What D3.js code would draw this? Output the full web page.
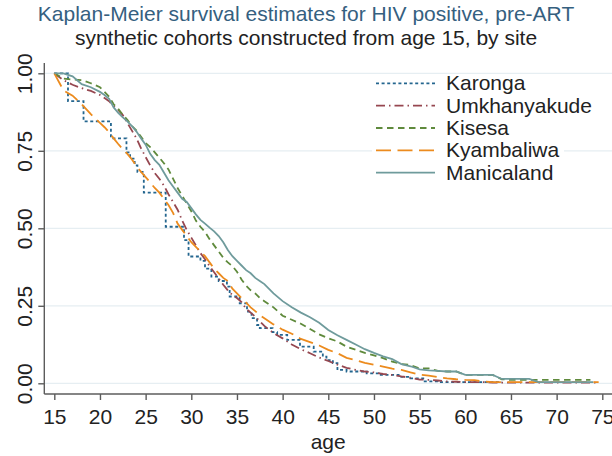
<!DOCTYPE html>
<html>
<head>
<meta charset="utf-8">
<script src="https://cdn.jsdelivr.net/npm/d3@7"></script>
<style>
  body { margin: 0; background: #fff; }
  svg { display: block; font-family: "Liberation Sans", Arial, Helvetica, sans-serif; }
  .c-axis path, .c-axis line { stroke: #5c5c5c; stroke-width: 1.4; }
  .c-axis text { fill: #222; font-size: 21px; font-family: "Liberation Sans", Arial, sans-serif; }
  .c-grid line { stroke: #e6eef2; stroke-width: 1.3; }
  .c-curves path { fill: none; stroke-width: 1.8; }
  .c-legend text { fill: #222; font-size: 21px; }
</style>
</head>
<body>
<div id="kmChart"></div>
<script>
// site names, in legend order
const sites = ['Karonga', 'Umkhanyakude', 'Kisesa', 'Kyambaliwa', 'Manicaland'];
const siteColors = ['#24668f', '#964750', '#5f8a3c', '#ec8b1e', '#6f9b9c'];
const siteDashes = ['3,2.6', '9,4,1.5,4', '6.5,4.5', '15,6.5', null];

const ageTicks = [15, 20, 25, 30, 35, 40, 45, 50, 55, 60, 65, 70, 75];
const survivalTicks = [0, 0.25, 0.5, 0.75, 1];

// shared age grid for the four large cohorts (survival read at these ages)
const ageGrid = [
  15, 16, 17, 18, 19, 20,
  20.5, 21, 21.5, 22, 22.5, 23, 23.5, 24, 24.5, 25, 25.5, 26, 26.5, 27, 27.5, 28,
  28.5, 29, 29.5, 30, 30.5, 31, 31.5, 32, 32.5, 33, 33.5, 34, 34.5, 35, 35.5, 36,
  36.5, 37, 37.5, 38,
  39, 40, 41, 42, 43, 44, 45, 46, 47, 48, 49, 50, 51, 52, 53, 54, 55, 56, 57, 58,
  59, 60, 61, 62, 63, 64, 65, 66, 67, 68, 69, 70, 71, 72, 73, 74
];

const umkhanyakudeSurvival = [
  1, 0.978, 0.963, 0.952, 0.943, 0.93,
  0.92, 0.91, 0.895, 0.882, 0.865, 0.84, 0.815, 0.79, 0.758, 0.73, 0.703, 0.678,
  0.66, 0.638, 0.61, 0.585, 0.56, 0.525, 0.495, 0.47, 0.445, 0.42, 0.4, 0.378,
  0.358, 0.338, 0.318, 0.3, 0.285, 0.275, 0.262, 0.24, 0.228, 0.215, 0.2, 0.185,
  0.162, 0.145, 0.125, 0.11, 0.097, 0.083, 0.072, 0.06, 0.05, 0.043, 0.038, 0.035,
  0.03, 0.027, 0.022, 0.018, 0.012, 0.011, 0.009, 0.006, 0.005, 0.004, 0.004,
  0.004, 0.002, 0.002, 0.002, 0.002, 0.002, 0.002, 0.002, 0.002, 0.002, 0.002,
  0.002, 0.002
];

const kisesaSurvival = [
  1, 0.983, 0.98, 0.978, 0.968, 0.955,
  0.94, 0.925, 0.9, 0.885, 0.866, 0.85, 0.83, 0.815, 0.795, 0.775, 0.762, 0.745,
  0.728, 0.71, 0.69, 0.66, 0.63, 0.605, 0.58, 0.555, 0.525, 0.505, 0.488, 0.465,
  0.445, 0.425, 0.405, 0.39, 0.378, 0.36, 0.335, 0.315, 0.3, 0.29, 0.275, 0.265,
  0.245, 0.218, 0.205, 0.192, 0.175, 0.158, 0.145, 0.135, 0.118, 0.108, 0.098, 0.09,
  0.081, 0.07, 0.062, 0.059, 0.048, 0.048, 0.04, 0.038, 0.038, 0.027, 0.027,
  0.027, 0.027, 0.013, 0.011, 0.011, 0.011, 0.011, 0.011, 0.011, 0.011, 0.011,
  0.011
];

const kyambaliwaSurvival = [
  1, 0.945, 0.928, 0.9, 0.868, 0.84,
  0.826, 0.81, 0.79, 0.772, 0.755, 0.74, 0.722, 0.7, 0.682, 0.665, 0.648, 0.63,
  0.615, 0.595, 0.575, 0.55, 0.515, 0.495, 0.475, 0.455, 0.44, 0.425, 0.41, 0.39,
  0.37, 0.355, 0.34, 0.33, 0.305, 0.29, 0.275, 0.26, 0.245, 0.233, 0.22, 0.21,
  0.19, 0.173, 0.16, 0.143, 0.133, 0.122, 0.108, 0.097, 0.082, 0.075, 0.066, 0.06,
  0.054, 0.047, 0.043, 0.035, 0.028, 0.025, 0.02, 0.016, 0.013, 0.011, 0.01,
  0.006, 0.004, 0.004, 0.004, 0.004, 0.004, 0.004, 0.004, 0.004, 0.004, 0.004,
  0.004, 0.004
];

const manicalandSurvival = [
  1, 1, 0.99, 0.965, 0.955, 0.94,
  0.93, 0.918, 0.89, 0.872, 0.858, 0.845, 0.83, 0.812, 0.79, 0.77, 0.74, 0.72,
  0.705, 0.68, 0.655, 0.635, 0.615, 0.595, 0.585, 0.565, 0.545, 0.527, 0.515, 0.502,
  0.49, 0.475, 0.455, 0.43, 0.41, 0.395, 0.38, 0.365, 0.355, 0.34, 0.33, 0.32,
  0.29, 0.265, 0.245, 0.228, 0.213, 0.195, 0.172, 0.155, 0.14, 0.125, 0.11, 0.098,
  0.087, 0.078, 0.062, 0.055, 0.045, 0.042, 0.04, 0.038, 0.038, 0.027, 0.027,
  0.027, 0.027, 0.014, 0.014, 0.014, 0.014, 0.004, 0.004, 0.004, 0.004, 0.004,
  0.004, 0.004
];

// Karonga is a small cohort, so its own step ages
const karongaAges = [
  15, 16.5, 18.2, 21.2, 22.9, 23.3, 23.8, 24.1, 24.8, 27.2, 29.2, 29.7, 31.0, 31.5,
  32.2, 33.0, 33.9, 34.2, 35.3, 36.1, 36.6, 37.2, 37.5, 38.9, 39.4, 40.5, 41.9,
  43.4, 44.4, 44.8, 45.5, 46.0, 47.0, 49.2, 50.5, 52.7, 54.0, 55.4, 57.0
];
const karongaSurvival = [
  1, 0.91, 0.845, 0.79, 0.745, 0.725, 0.703, 0.682, 0.615, 0.505, 0.462, 0.409, 0.395,
  0.37, 0.344, 0.33, 0.312, 0.28, 0.258, 0.231, 0.21, 0.188, 0.178, 0.165, 0.156,
  0.14, 0.118, 0.102, 0.086, 0.075, 0.065, 0.043, 0.038, 0.032, 0.027, 0.021, 0.016,
  0.006, 0.004
];

// age at which each curve stops
const siteEndAges = [64, 74.4, 73.7, 74.6, 74];

class KaplanMeierChart {
  constructor () {
    this.chartContainer = d3.select('#kmChart');
    this.chart = null;
    this.chartWidth = 612;
    this.chartHeight = 456;
    this.plotLeft = 44.3;
    this.plotRight = 612;
    this.plotTop = 63;
    this.plotBottom = 394;
    this.ageScale = null;
    this.survivalScale = null;
  }

  buildSeries () {
    let survivals = [karongaSurvival, umkhanyakudeSurvival, kisesaSurvival, kyambaliwaSurvival, manicalandSurvival];
    this.series = sites.map((site, i) => {
      let ages = i === 0 ? karongaAges : ageGrid;
      let points = survivals[i].map((s, j) => ({age: ages[j], survival: s}))
        .filter((d) => d.age < siteEndAges[i]);
      points.push({age: siteEndAges[i], survival: points[points.length - 1].survival});
      // Karonga has few events: real steps; the big cohorts are read point by point
      let curve = i === 0 ? d3.curveStepAfter : d3.curveLinear;
      return {site: site, color: siteColors[i], dash: siteDashes[i], points: points, curve: curve};
    });
  }

  createSvg () {
    this.chart = this.chartContainer
      .append('svg')
      .attr('width', this.chartWidth)
      .attr('height', this.chartHeight);
  }

  initScales () {
    this.ageScale = d3.scaleLinear().domain([15, 75]).range([54.3, 602.3]);
    this.survivalScale = d3.scaleLinear().domain([0, 1]).range([383.3, 73.3]);
  }

  drawGrid () {
    this.chart
      .append('g')
      .attr('class', 'c-grid')
      .selectAll('line')
      .data(survivalTicks)
      .enter()
      .append('line')
      .attr('x1', this.plotLeft)
      .attr('x2', this.plotRight)
      .attr('y1', (d) => this.survivalScale(d))
      .attr('y2', (d) => this.survivalScale(d));
  }

  drawAxes () {
    let survivalAxis = d3.axisLeft(this.survivalScale)
      .tickValues(survivalTicks)
      .tickFormat(d3.format('.2f'))
      .tickSize(6)
      .tickSizeOuter(0);
    let ageAxis = d3.axisBottom(this.ageScale)
      .tickValues(ageTicks)
      .tickSize(6)
      .tickSizeOuter(0);

    let yAxis = this.chart
      .append('g')
      .attr('class', 'c-axis')
      .attr('transform', 'translate(' + this.plotLeft + ', 0)')
      .call(survivalAxis);
    yAxis.select('.domain').remove();
    yAxis.append('line')
      .attr('y1', this.plotTop)
      .attr('y2', this.plotBottom);
    yAxis.selectAll('.tick text')
      .attr('x', 0)
      .attr('dy', 0)
      .attr('text-anchor', 'middle')
      .attr('transform', 'translate(-12.6, 0) rotate(-90)');

    let xAxis = this.chart
      .append('g')
      .attr('class', 'c-axis')
      .attr('transform', 'translate(0, ' + this.plotBottom + ')')
      .call(ageAxis);
    xAxis.select('.domain').remove();
    xAxis.append('line')
      .attr('x1', this.plotLeft)
      .attr('x2', this.plotRight);
    xAxis.selectAll('.tick text')
      .attr('y', 30)
      .attr('dy', 0);

    this.chart
      .append('text')
      .attr('x', (this.plotLeft + this.plotRight) / 2)
      .attr('y', 449)
      .attr('text-anchor', 'middle')
      .style('font-size', '21px')
      .style('fill', '#222')
      .text('age');
  }

  drawCurves () {
    this.chart
      .append('g')
      .attr('class', 'c-curves')
      .selectAll('path')
      .data(this.series)
      .enter()
      .append('path')
      .attr('stroke', (d) => d.color)
      .attr('stroke-dasharray', (d) => d.dash)
      .attr('d', (d) => {
        let line = d3.line()
          .curve(d.curve)
          .x((p) => this.ageScale(p.age))
          .y((p) => this.survivalScale(p.survival));
        return line(d.points);
      });
  }

  drawLegend () {
    let legend = this.chart
      .append('g')
      .attr('class', 'c-legend');

    legend.append('rect')
      .attr('x', 372)
      .attr('y', 76)
      .attr('width', 192)
      .attr('height', 108)
      .attr('fill', '#fff');

    let rows = legend.selectAll('g.row')
      .data(this.series)
      .enter()
      .append('g')
      .attr('class', 'row')
      .attr('transform', (d, i) => 'translate(0, ' + (83.3 + i * 22.35) + ')');

    rows.append('line')
      .attr('x1', 376)
      .attr('x2', 435)
      .attr('stroke', (d) => d.color)
      .attr('stroke-width', 1.8)
      .attr('stroke-dasharray', (d) => d.dash);

    rows.append('text')
      .attr('x', 446)
      .attr('y', 7)
      .text((d) => d.site);
  }

  drawTitles () {
    this.chart
      .append('text')
      .attr('x', this.chartWidth / 2)
      .attr('y', 21)
      .attr('text-anchor', 'middle')
      .style('font-size', '21px')
      .style('fill', '#35607f')
      .text('Kaplan-Meier survival estimates for HIV positive, pre-ART');

    this.chart
      .append('text')
      .attr('x', this.chartWidth / 2)
      .attr('y', 45)
      .attr('text-anchor', 'middle')
      .style('font-size', '21px')
      .style('fill', '#222')
      .text('synthetic cohorts constructed from age 15, by site');
  }

  render () {
    this.buildSeries();
    this.createSvg();
    this.initScales();
    this.drawGrid();
    this.drawCurves();
    this.drawAxes();
    this.drawLegend();
    this.drawTitles();
  }
}

new KaplanMeierChart().render();
</script>
</body>
</html>
